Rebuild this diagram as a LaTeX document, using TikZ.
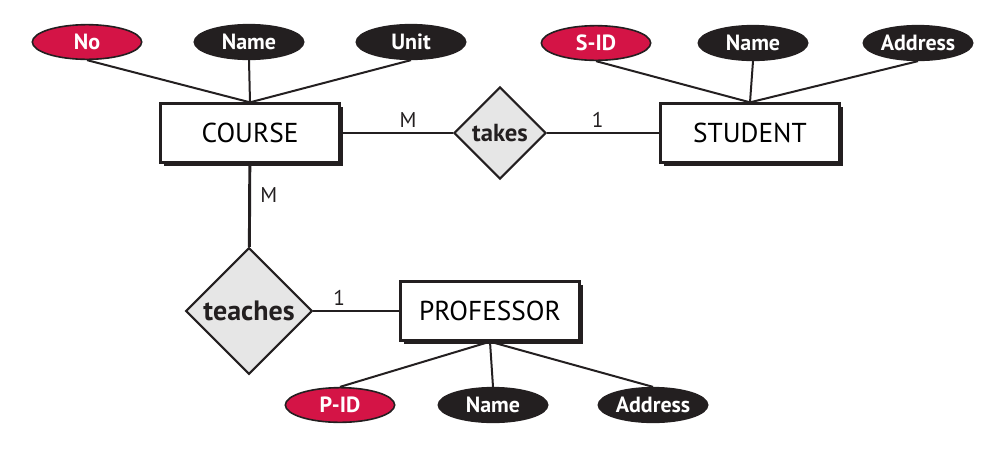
\documentclass[tikz,border=0pt]{standalone}
\usepackage{fontspec}
\setmainfont{PT Sans}
\usetikzlibrary{shapes.geometric, positioning, shadows}
\definecolor{ink}{RGB}{35,31,32}
\definecolor{keyred}{RGB}{212,20,70}
\definecolor{relgray}{RGB}{230,230,230}
\tikzset{
  entity/.style={rectangle, draw=ink, line width=2pt, fill=white,
    minimum width=134pt, minimum height=44pt,
    font=\fontsize{20.5}{22}\selectfont,
    drop shadow={shadow xshift=2.6pt, shadow yshift=-2.6pt, fill=ink, opacity=1}},
  relation/.style={diamond, aspect=1, draw=ink, line width=1.6pt, fill=relgray,
    inner sep=0pt, text=ink, font=\bfseries\fontsize{18.5}{20}\selectfont},
  attr/.style={ellipse, draw=ink, line width=1.2pt, fill=ink, text=white,
    minimum width=82pt, minimum height=26pt, inner sep=0pt,
    font=\bfseries\fontsize{16.5}{18}\selectfont},
  keyattr/.style={attr, fill=keyred},
  link/.style={draw=ink, line width=2.2pt},
  attrlink/.style={draw=ink, line width=1.5pt},
  card/.style={text=ink, font=\fontsize{16}{18}\selectfont, inner sep=3pt},
}
\begin{document}
\begin{tikzpicture}[x=0.75pt, y=-0.75pt]
  \useasboundingbox (0,0) rectangle (988,458);

  % Entities
  \node[entity] (course)    at (250,133) {COURSE};
  \node[entity] (student)   at (750,133) {STUDENT};
  \node[entity] (professor) at (490,311) {PROFESSOR};

  % Relationships
  \node[relation, minimum size=69pt] (takes)   at (500,133) {takes};
  \node[relation, minimum size=95pt,
        font=\bfseries\fontsize{21}{23}\selectfont] (teaches) at (249,311) {teaches};

  % Attributes
  \node[keyattr] (cno)    at (87,42)  {No};
  \node[attr]    (cname)  at (249,42) {Name};
  \node[attr]    (cunit)  at (411,42) {Unit};
  \node[keyattr] (sid)    at (596,43) {S-ID};
  \node[attr]    (sname)  at (753,43) {Name};
  \node[attr]    (saddr)  at (918,43) {Address};
  \node[keyattr] (pid)    at (340,405) {P-ID};
  \node[attr]    (pname)  at (493,405) {Name};
  \node[attr]    (paddr)  at (653,405) {Address};

  % Attribute links
  \draw[attrlink] (cno.south)   -- (course.north);
  \draw[attrlink] (cname.south) -- (course.north);
  \draw[attrlink] (cunit.south) -- (course.north);
  \draw[attrlink] (sid.south)   -- (student.north);
  \draw[attrlink] (sname.south) -- (student.north);
  \draw[attrlink] (saddr.south) -- (student.north);
  \draw[attrlink] (professor.south) -- (pid.north);
  \draw[attrlink] (professor.south) -- (pname.north);
  \draw[attrlink] (professor.south) -- (paddr.north);

  % Relationship links
  \draw[link] (course)  -- node[card, above, pos=0.6] {M} (takes);
  \draw[link] (takes)   -- node[card, above, pos=0.45] {1} (student);
  \draw[link] (course)  -- node[card, right=4pt, pos=0.38] {M} (teaches);
  \draw[link] (teaches) -- node[card, above, pos=0.3] {1} (professor);
\end{tikzpicture}
\end{document}
